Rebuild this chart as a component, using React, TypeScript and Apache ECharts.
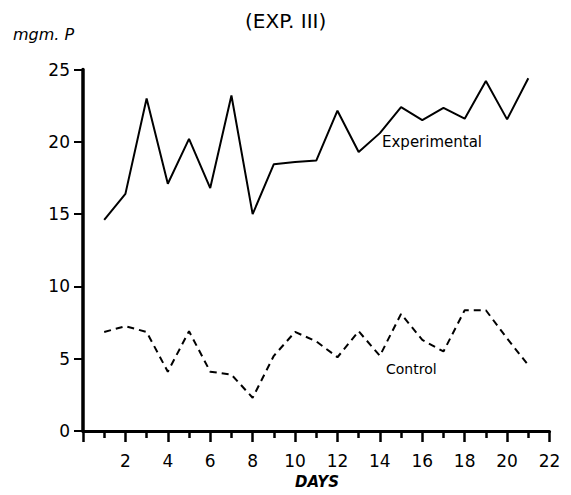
import React, { useEffect, useRef } from "react";
import * as echarts from "echarts";

const days = [1, 2, 3, 4, 5, 6, 7, 8, 9, 10, 11, 12, 13, 14, 15, 16, 17, 18, 19, 20, 21];
const experimental = [14.6, 16.4, 23.0, 17.1, 20.2, 16.8, 23.2, 15.0, 18.45, 18.6, 18.7, 22.15, 19.3, 20.6, 22.4, 21.5, 22.35, 21.6, 24.2, 21.55, 24.4];
const control = [6.85, 7.25, 6.85, 4.1, 6.9, 4.1, 3.9, 2.3, 5.2, 6.85, 6.2, 5.1, 6.9, 5.2, 8.1, 6.3, 5.5, 8.35, 8.35, 6.4, 4.55];
const xTicks = [2, 4, 6, 8, 10, 12, 14, 16, 18, 20, 22];
const yTicks = [0, 5, 10, 15, 20, 25];

const FONT = "'DejaVu Sans', 'Liberation Sans', sans-serif";

export default function App() {
  const ref = useRef<HTMLDivElement>(null);
  useEffect(() => {
    if (!ref.current) return;
    const chart = echarts.init(ref.current, null, { renderer: "svg" });
    chart.setOption({
      animation: false,
      backgroundColor: "#ffffff",
      grid: { left: 83, right: 21.5, top: 69.5, bottom: 64, containLabel: false },
      xAxis: {
        type: "value",
        min: 0,
        max: 22,
        interval: 2,
        axisLine: { show: true, lineStyle: { color: "#000", width: 3 } },
        axisTick: { show: true, length: 11, lineStyle: { color: "#000", width: 2.5 } },
        minorTick: { show: true, splitNumber: 2, length: 7, lineStyle: { color: "#000", width: 2.5 } },
        splitLine: { show: false },
        axisLabel: {
          margin: 21,
          color: "#000",
          fontSize: 17,
          fontFamily: FONT,
          formatter: (v: number) => (xTicks.includes(v) ? String(v) : ""),
        },
      },
      yAxis: {
        type: "value",
        min: 0,
        max: 25,
        interval: 5,
        axisLine: { show: true, lineStyle: { color: "#000", width: 3.5 } },
        axisTick: { show: true, length: 9, lineStyle: { color: "#000", width: 2 } },
        splitLine: { show: false },
        axisLabel: {
          margin: 13,
          color: "#000",
          fontSize: 17,
          fontFamily: FONT,
          formatter: (v: number) => (yTicks.includes(v) ? String(v) : ""),
        },
      },
      series: [
        {
          name: "Experimental",
          type: "line",
          data: days.map((d, i) => [d, experimental[i]]),
          symbol: "none",
          lineStyle: { color: "#000", width: 2 },
        },
        {
          name: "Control",
          type: "line",
          data: days.map((d, i) => [d, control[i]]),
          symbol: "none",
          lineStyle: { color: "#000", width: 2, type: [7, 5] },
        },
      ],
      graphic: [
        {
          type: "text",
          left: 245,
          top: 11,
          style: { text: "(EXP. III)", font: `20px ${FONT}`, fill: "#000" },
        },
        {
          type: "text",
          left: 13,
          top: 26,
          style: { text: "mgm. P", font: `italic 16px ${FONT}`, fill: "#000" },
        },
        {
          type: "text",
          left: 295,
          top: 474,
          style: { text: "DAYS", font: `italic bold 15px ${FONT}`, fill: "#000" },
        },
        {
          type: "text",
          left: 382,
          top: 134,
          style: { text: "Experimental", font: `15px ${FONT}`, fill: "#000" },
        },
        {
          type: "text",
          left: 386,
          top: 362,
          style: { text: "Control", font: `14px ${FONT}`, fill: "#000" },
        },
      ],
    });
    return () => chart.dispose();
  }, []);
  return <div ref={ref} style={{ width: 571, height: 495, margin: -8 }} />;
}
